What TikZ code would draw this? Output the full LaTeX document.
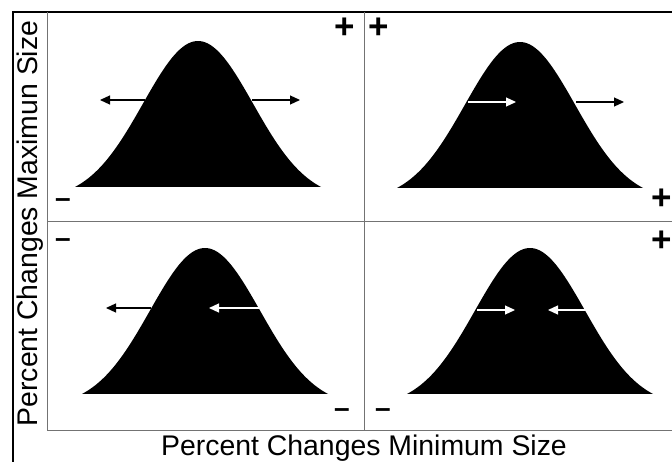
\documentclass[tikz,border=0pt]{standalone}
\usepackage{fontspec}
\setmainfont{Liberation Sans}
\usetikzlibrary{arrows.meta}
\begin{document}
\begin{tikzpicture}[x=1pt, y=-1pt,
	grid/.style={draw=black!55, line width=1pt},
	sign/.style={inner sep=0pt, font=\fontsize{35}{36}\selectfont\bfseries},
	dashsign/.style={inner sep=0pt, font=\fontsize{28}{30}\selectfont\bfseries},
	label/.style={inner sep=0pt, anchor=base, font=\fontsize{28.4}{32}\selectfont},
	push/.style={line width=1.2pt, -{Triangle[length=10pt,width=9pt]}}]
\useasboundingbox (0,0) rectangle (672,462);
% frame
\draw[line width=1.2pt] (13,462) -- (13,12) -- (672,12);
\draw[grid] (47,12) -- (47,430) -- (672,430);
\draw[grid] (364,12) -- (364,430);
\draw[grid] (47,222) -- (672,222);
% bells
\foreach \cx / \by in {198/187, 520/188, 205/394, 530/394}
{
	\fill[black] (\cx-123,\by) plot[domain=-123:123, samples=90]
		({\cx+\x}, {\by-146*(exp(-(\x/55)^2/2)-0.0817)/0.9183}) -- cycle;
}
% arrows
\draw[push] (145,100) -- (100,100);
\draw[push] (252,100) -- (300,100);
\draw[push, white] (468,102) -- (516,102);
\draw[push] (576,102) -- (624,102);
\draw[push] (151,308) -- (106,308);
\draw[push, white] (259,308) -- (209,308);
\draw[push, white] (477,310) -- (515,310);
\draw[push, white] (586,310) -- (548,310);
% signs
\foreach \x / \y [count=\i] in {345/28, 379/28, 662/199, 662/241}
	\node[sign] (plus\i) at (\x,\y) {+};
\foreach \x / \y [count=\i] in {63/203, 63/243, 342/413, 383/413}
	\node[dashsign] (minus\i) at (\x,\y) {–};
% axis labels
\node[label] (xlab) at (364,455) {Percent Changes Minimum Size};
\node[label, rotate=90] (ylab) at (37,223.5) {Percent Changes Maximun Size};
\end{tikzpicture}
\end{document}
